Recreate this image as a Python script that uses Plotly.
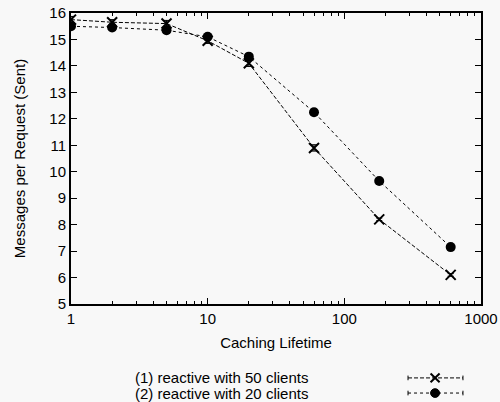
import plotly.graph_objects as go

lifetime = [1, 2, 5, 10, 20, 60, 180, 600]
msgs_50 = [15.75, 15.65, 15.6, 14.95, 14.1, 10.9, 8.2, 6.1]
msgs_20 = [15.5, 15.45, 15.35, 15.1, 14.35, 12.25, 9.65, 7.15]
err_50 = [0.12, 0.1, 0.12, 0.1, 0.12, 0.12, 0.05, 0.05]
err_20 = [0.1, 0.08, 0.1, 0.1, 0.08, 0.12, 0.05, 0.05]
legend_labels = ["(1) reactive with 50 clients", "(2) reactive with 20 clients"]
x_ticks = [1, 10, 100, 1000]
x_minor = [2, 3, 4, 5, 6, 7, 8, 9, 20, 30, 40, 50, 60, 70, 80, 90, 200, 300, 400, 500, 600, 700, 800, 900]
y_ticks = list(range(5, 17))

FONT = "Liberation Sans, Arial, sans-serif"
FS = 15
DASH1 = "4px,2px"
fig = go.Figure()
fig.add_trace(go.Scatter(
    x=lifetime, y=msgs_50, mode="lines+markers",
    line=dict(color="black", width=1, dash=DASH1),
    marker=dict(symbol="x-thin", size=10, line=dict(color="black", width=2)),
    error_y=dict(type="data", array=err_50, color="black", thickness=1, width=3),
    showlegend=False))
fig.add_trace(go.Scatter(
    x=lifetime, y=msgs_20, mode="lines+markers",
    line=dict(color="black", width=1, dash="dot"),
    marker=dict(symbol="circle", size=10, color="black"),
    error_y=dict(type="data", array=err_20, color="black", thickness=1, width=3),
    showlegend=False))

axis_common = dict(showgrid=False, zeroline=False, showline=True, linecolor="black",
                   linewidth=2, mirror="allticks", ticks="inside", tickcolor="black",
                   automargin=False,
                   tickfont=dict(family=FONT, size=FS, color="black"))
fig.update_xaxes(type="log", range=[0, 3], tickvals=x_ticks, ticktext=[str(v) for v in x_ticks],
                 ticklen=6, tickwidth=1,
                 minor=dict(ticks="inside", ticklen=3, tickcolor="black", tickvals=x_minor, showgrid=False),
                 title=dict(text="Caching Lifetime", font=dict(family=FONT, size=FS, color="black"), standoff=11),
                 **axis_common)
fig.update_yaxes(range=[5, 16], tickvals=y_ticks, ticklen=6, tickwidth=1,
                 title=dict(text="Messages per Request (Sent)", font=dict(family=FONT, size=FS, color="black"), standoff=20),
                 **axis_common)

# legend (text left, sample right)
ys = [-0.254, -0.306]
dashes = [DASH1, "dot"]
for i, (lab, yy, dash) in enumerate(zip(legend_labels, ys, dashes)):
    fig.add_annotation(xref="paper", yref="paper", x=0.151, y=yy, text=lab, showarrow=False,
                       xanchor="left", yanchor="middle", font=dict(family=FONT, size=FS, color="black"))
    fig.add_shape(type="line", xref="paper", yref="paper", x0=0.822, x1=0.956, y0=yy, y1=yy,
                  line=dict(color="black", width=1, dash=dash))
    for xe in (0.822, 0.956):
        fig.add_shape(type="line", xref="paper", yref="paper", x0=xe, x1=xe, y0=yy - 0.008, y1=yy + 0.008,
                      line=dict(color="black", width=1))
    cx = 0.888
    dx, dy = 0.011, 0.015
    if i == 0:
        fig.add_shape(type="line", xref="paper", yref="paper", x0=cx - dx, x1=cx + dx, y0=yy - dy, y1=yy + dy,
                      line=dict(color="black", width=2))
        fig.add_shape(type="line", xref="paper", yref="paper", x0=cx - dx, x1=cx + dx, y0=yy + dy, y1=yy - dy,
                      line=dict(color="black", width=2))
    else:
        fig.add_shape(type="circle", xref="paper", yref="paper", x0=cx - dx, x1=cx + dx, y0=yy - dy, y1=yy + dy,
                      fillcolor="black", line=dict(color="black", width=1))

fig.update_layout(width=500, height=402, margin=dict(l=71, r=19, t=13, b=98),
                  paper_bgcolor="#f8f8f8", plot_bgcolor="#f8f8f8", showlegend=False)
fig.write_html("out.html")
